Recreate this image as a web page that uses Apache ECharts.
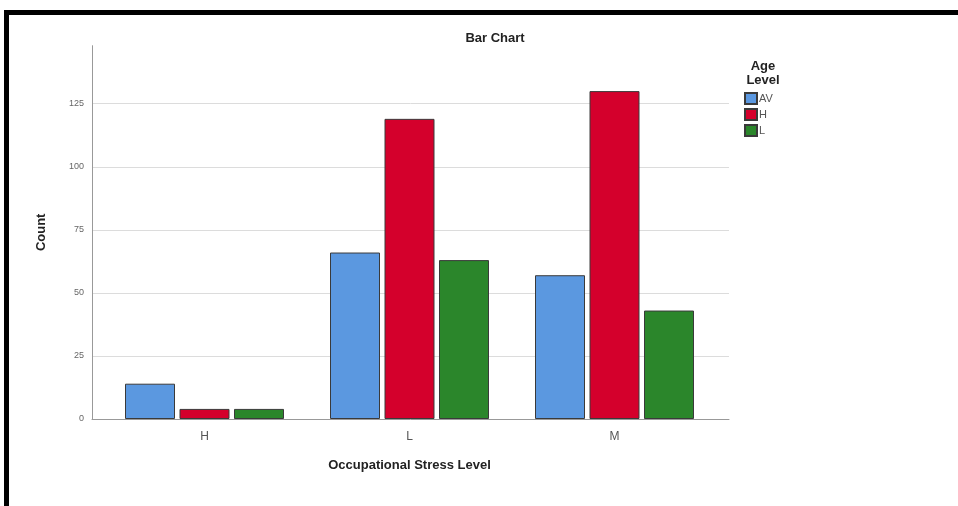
<!DOCTYPE html>
<html>
<head>
<meta charset="utf-8">
<script src="https://cdn.jsdelivr.net/npm/echarts@6/dist/echarts.min.js"></script>
<style>
  html, body { margin: 0; padding: 0; background: #fff; }
  #chart { width: 958px; height: 506px; }
</style>
</head>
<body>
<div id="chart"></div>
<script>
const categories = ['H', 'L', 'M'];
const seriesNames = ['AV', 'H', 'L'];
const valuesAV = [14, 66, 57];
const valuesH = [4, 119, 130];
const valuesL = [4, 63, 43];
const yTicks = [0, 25, 50, 75, 100, 125];
const yMax = 148;
const colors = ['#5b98e0', '#d4002c', '#2b862b'];

const font = '"Liberation Sans", Arial, sans-serif';
const chart = echarts.init(document.getElementById('chart'), null, { renderer: 'canvas' });

const seriesData = [valuesAV, valuesH, valuesL];

const option = {
  backgroundColor: '#ffffff',
  animation: false,
  color: colors,
  title: [
    { text: 'Bar Chart', left: 490, top: 27, textAlign: 'center',
      textStyle: { fontFamily: font, fontSize: 13, fontWeight: 'bold', color: '#222' } },
    { text: 'Age\nLevel', left: 758, top: 54, textAlign: 'center',
      textStyle: { fontFamily: font, fontSize: 13, fontWeight: 'bold', color: '#222', lineHeight: 14 } }
  ],
  legend: {
    orient: 'vertical', left: 739, top: 87, itemGap: 3,
    itemWidth: 12, itemHeight: 11, icon: 'rect',
    data: seriesNames,
    textStyle: { fontFamily: font, fontSize: 11, color: '#555', padding: [0, 0, 0, -3] }
  },
  grid: [
    { left: 92, right: 229, top: 45.7, bottom: 87, containLabel: false },
    { left: 102, width: 615, top: 45.7, bottom: 87, containLabel: false }
  ],
  xAxis: [
    { type: 'category', gridIndex: 0, data: categories,
      axisLine: { show: true, lineStyle: { color: '#999', width: 1 } },
      axisTick: { show: false }, axisLabel: { show: false }, splitLine: { show: false } },
    { type: 'category', gridIndex: 1, data: categories,
      axisLine: { show: false }, axisTick: { show: false },
      axisLabel: { fontFamily: font, fontSize: 12, color: '#555', margin: 12 },
      name: 'Occupational Stress Level', nameLocation: 'middle', nameGap: 40,
      nameTextStyle: { fontFamily: font, fontSize: 13, fontWeight: 'bold', color: '#222' } }
  ],
  yAxis: [
    { type: 'value', gridIndex: 0, min: 0, max: yMax, interval: 25,
      axisLine: { show: true, lineStyle: { color: '#999', width: 1 } },
      axisTick: { show: false },
      axisLabel: { fontFamily: font, fontSize: 9, color: '#666', margin: 8, showMaxLabel: false,
        formatter: v => (yTicks.indexOf(v) >= 0 ? String(v) : '') },
      splitLine: { show: true, showMaxLine: false, showMinLine: false, lineStyle: { color: '#dcdcdc', width: 1 } },
      name: 'Count', nameLocation: 'middle', nameGap: 44, nameRotate: 90,
      nameTextStyle: { fontFamily: font, fontSize: 13, fontWeight: 'bold', color: '#222' } },
    { type: 'value', gridIndex: 1, min: 0, max: yMax, interval: 25, show: false,
      splitLine: { show: false } }
  ],
  series: seriesNames.map((name, i) => ({
    name: name, type: 'bar', xAxisIndex: 1, yAxisIndex: 1,
    data: seriesData[i], barWidth: 50, barGap: '9%',
    itemStyle: { color: colors[i], borderColor: '#3a3a3a', borderWidth: 1 }
  })),
  graphic: [
    { type: 'rect', shape: { x: 4, y: 10, width: 954, height: 5 }, style: { fill: '#000' } },
    { type: 'rect', shape: { x: 4, y: 10, width: 5, height: 496 }, style: { fill: '#000' } }
  ]
};
chart.setOption(option);
</script>
</body>
</html>
